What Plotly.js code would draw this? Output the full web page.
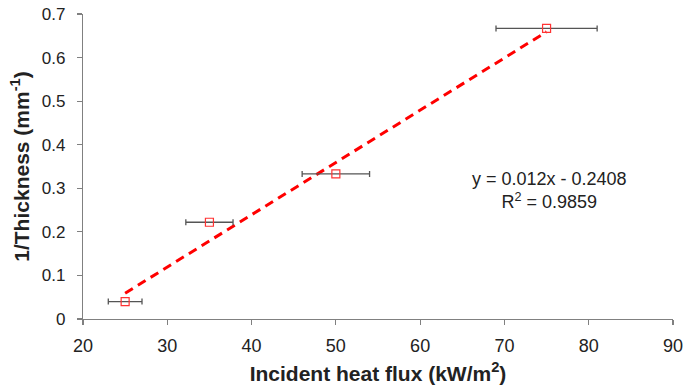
<!DOCTYPE html>
<html>
<head>
<meta charset="utf-8">
<script src="https://cdn.plot.ly/plotly-3.0.1.min.js"></script>
<style>html,body{margin:0;padding:0;background:#fff;}#chart{width:684px;height:392px;}</style>
</head>
<body>
<div id="chart"></div>
<script>
const heatFlux = [25, 35, 50, 75];
const invThickness = [0.04, 0.222, 0.333, 0.667];
const fluxError = [2, 2.8, 4, 6];
const trendX = [25, 75];
const trendY = [0.0592, 0.6592];
const xTicks = [20, 30, 40, 50, 60, 70, 80, 90];
const yTicks = [0, 0.1, 0.2, 0.3, 0.4, 0.5, 0.6, 0.7];
const eqText = "y = 0.012x - 0.2408<br>R<sup>2</sup> = 0.9859";

const font = "Liberation Sans, Arial, sans-serif";

const data = [
  {
    x: trendX, y: trendY, mode: "lines", type: "scatter",
    line: {color: "#ff0000", width: 3, dash: "9px,6px"},
    hoverinfo: "skip", showlegend: false
  },
  {
    x: heatFlux, y: invThickness, mode: "markers", type: "scatter",
    marker: {symbol: "square-open", size: 8, color: "#ff3333", line: {width: 1.2}},
    error_x: {type: "data", array: fluxError, visible: true, color: "#555555", thickness: 1.3, width: 3},
    showlegend: false
  }
];

const axisCommon = {
  showgrid: false, zeroline: false, showline: true, linecolor: "#808080", linewidth: 1.2,
  ticks: "outside", ticklen: 5, tickcolor: "#808080", tickwidth: 1.2
};

const layout = {
  width: 684, height: 392,
  margin: {l: 83, r: 11, t: 14, b: 73},
  paper_bgcolor: "#fff", plot_bgcolor: "#fff",
  xaxis: Object.assign({}, axisCommon, {
    range: [20, 90], tickvals: xTicks, ticktext: xTicks.map(String),
    tickfont: {family: font, size: 18, color: "#222"}, ticklabelstandoff: 5,
    title: {text: "<b>Incident heat flux (kW/m<sup>2</sup>)</b>", font: {family: font, size: 21, color: "#222"}, standoff: 11}
  }),
  yaxis: Object.assign({}, axisCommon, {
    range: [0, 0.7], tickvals: yTicks, ticktext: yTicks.map(v => String(v)),
    tickfont: {family: font, size: 17, color: "#222"}, ticklabelstandoff: 8,
    title: {text: "<b>1/Thickness (mm<sup>-1</sup>)</b>", font: {family: font, size: 21, color: "#222"}, standoff: 6}
  }),
  annotations: [{
    x: 75.4, y: 0.348, xref: "x", yref: "y", xanchor: "center", yanchor: "top",
    text: eqText, showarrow: false, align: "center",
    font: {family: font, size: 18, color: "#222"}
  }]
};

Plotly.newPlot("chart", data, layout, {displayModeBar: false, staticPlot: true});
</script>
</body>
</html>
